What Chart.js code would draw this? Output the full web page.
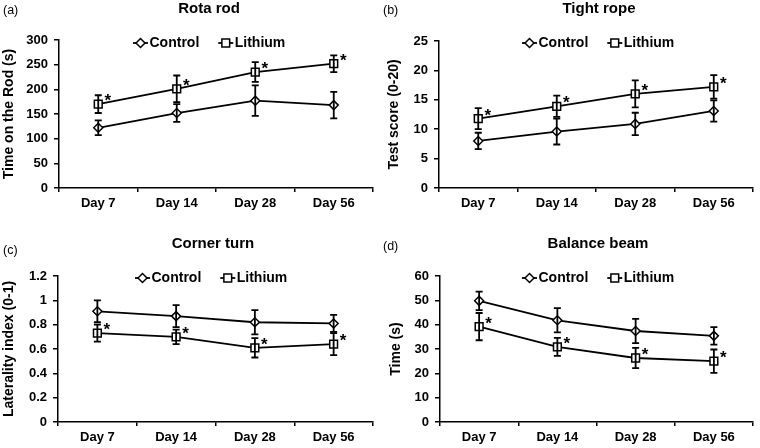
<!DOCTYPE html>
<html><head><meta charset="utf-8">
<script src="https://cdn.jsdelivr.net/npm/chart.js@4.4.1/dist/chart.umd.min.js"></script>
<style>
html,body{margin:0;padding:0;background:#fff;width:760px;height:448px;overflow:hidden}
.p{position:absolute;width:380px;height:224px}
canvas{display:block}
</style></head><body>
<div class="p" style="left:0;top:0"><canvas id="ca" width="380" height="224"></canvas></div>
<div class="p" style="left:380px;top:0"><canvas id="cb" width="380" height="224"></canvas></div>
<div class="p" style="left:0;top:224px"><canvas id="cc" width="380" height="224"></canvas></div>
<div class="p" style="left:380px;top:224px"><canvas id="cd" width="380" height="224"></canvas></div>
<script>
const days = ['Day 7', 'Day 14', 'Day 28', 'Day 56'];
const seriesNames = ['Control', 'Lithium'];

const rotaControl = [122, 152, 177, 168];
const rotaControlErr = [15, 18, 31, 27];
const rotaLithium = [170, 201, 235, 252];
const rotaLithiumErr = [18, 27, 20, 17];
const rotaTicks = [0, 50, 100, 150, 200, 250, 300];

const ropeControl = [8.0, 9.6, 10.9, 13.1];
const ropeControlErr = [1.4, 2.2, 1.9, 1.8];
const ropeLithium = [11.8, 13.9, 16.0, 17.2];
const ropeLithiumErr = [1.8, 1.8, 2.3, 2.0];
const ropeTicks = [0, 5, 10, 15, 20, 25];

const cornerControl = [0.91, 0.87, 0.82, 0.81];
const cornerControlErr = [0.09, 0.09, 0.10, 0.07];
const cornerLithium = [0.73, 0.70, 0.61, 0.64];
const cornerLithiumErr = [0.07, 0.06, 0.08, 0.09];
const cornerTicks = [0, 0.2, 0.4, 0.6, 0.8, 1, 1.2];

const beamControl = [49.8, 41.8, 37.4, 35.4];
const beamControlErr = [3.8, 5.0, 5.0, 3.6];
const beamLithium = [39.2, 30.9, 26.3, 25.0];
const beamLithiumErr = [5.6, 3.7, 4.2, 4.8];
const beamTicks = [0, 10, 20, 30, 40, 50, 60];

const lithiumSig = ['*', '*', '*', '*'];

Chart.defaults.font.family = "'Liberation Sans', Arial, sans-serif";
Chart.defaults.color = '#000';

const FONT = "'Liberation Sans', Arial, sans-serif";

function markerPath(ctx, style, x, y) {
  ctx.beginPath();
  if (style === 'rectRot') {
    const r = 4.5;
    ctx.moveTo(x - r, y); ctx.lineTo(x, y - r); ctx.lineTo(x + r, y); ctx.lineTo(x, y + r);
    ctx.closePath();
  } else {
    const s = 5.5 * Math.SQRT1_2;
    ctx.rect(x - s, y - s, 2 * s, 2 * s);
  }
  ctx.fillStyle = '#fff'; ctx.fill();
  ctx.strokeStyle = '#000'; ctx.lineWidth = 1.5; ctx.stroke();
}

function makeChart(p) {
  const overlay = {
    id: 'overlay',
    afterDatasetsDraw(chart) {
      const ctx = chart.ctx, ys = chart.scales.y;
      ctx.save();
      ctx.strokeStyle = '#000'; ctx.lineWidth = 1.8;
      [[0, p.ctrlErr], [1, p.lithErr]].forEach(([di, err]) => {
        const meta = chart.getDatasetMeta(di);
        const vals = chart.data.datasets[di].data;
        meta.data.forEach((pt, i) => {
          const top = ys.getPixelForValue(vals[i] + err[i]);
          const bot = ys.getPixelForValue(vals[i] - err[i]);
          ctx.beginPath();
          ctx.moveTo(pt.x, top); ctx.lineTo(pt.x, bot);
          ctx.moveTo(pt.x - 3.5, top); ctx.lineTo(pt.x + 3.5, top);
          ctx.moveTo(pt.x - 3.5, bot); ctx.lineTo(pt.x + 3.5, bot);
          ctx.stroke();
        });
      });
      const meta = chart.getDatasetMeta(1);
      ctx.fillStyle = '#000';
      ctx.font = 'bold 17px ' + FONT;
      ctx.textAlign = 'center';
      ctx.textBaseline = 'alphabetic';
      meta.data.forEach((pt, i) => {
        if (lithiumSig[i]) ctx.fillText(lithiumSig[i], pt.x + 9.5, pt.y + 2);
      });
      ctx.restore();
    },
    afterDraw(chart) {
      const ctx = chart.ctx;
      ctx.save();
      ctx.fillStyle = '#000';
      ctx.textBaseline = 'middle';
      ctx.font = 'bold 15px ' + FONT;
      ctx.textAlign = 'center';
      ctx.fillText(p.title, p.titleX, p.titleY);
      ctx.font = '12.5px ' + FONT;
      ctx.textAlign = 'left';
      ctx.fillText(p.tag, 3, p.tagY);
      ctx.font = 'bold 14px ' + FONT;
      let x = p.legendX;
      const ly = p.legendY;
      const styles = ['rectRot', 'rect'];
      seriesNames.forEach((name, i) => {
        ctx.strokeStyle = '#000'; ctx.lineWidth = 1.8;
        ctx.beginPath(); ctx.moveTo(x, ly); ctx.lineTo(x + 15, ly); ctx.stroke();
        markerPath(ctx, styles[i], x + 7.5, ly);
        ctx.fillStyle = '#000';
        ctx.fillText(name, x + 16.5, ly + 0.5);
        x += 16.5 + ctx.measureText(name).width + 19;
      });
      ctx.restore();
    }
  };

  const ds = (label, data, style, radius) => ({
    label, data,
    borderColor: '#000', borderWidth: 1.8, tension: 0, fill: false,
    pointStyle: style, pointRadius: radius, pointHoverRadius: radius,
    pointBackgroundColor: '#fff', pointBorderColor: '#000', pointBorderWidth: 1.5
  });

  return new Chart(document.getElementById(p.id), {
    type: 'line',
    data: {
      labels: days,
      datasets: [
        ds(seriesNames[0], p.ctrl, 'rectRot', 4.5),
        ds(seriesNames[1], p.lith, 'rect', 5.5)
      ]
    },
    options: {
      responsive: false,
      animation: false,
      events: [],
      layout: { padding: { left: p.padLeft, top: p.padTop, right: p.padRight, bottom: 0 } },
      plugins: { legend: { display: false }, title: { display: false }, tooltip: { enabled: false } },
      scales: {
        x: {
          type: 'category',
          offset: true,
          grid: { offset: true, drawOnChartArea: false, drawTicks: true, tickLength: 4, color: '#000', lineWidth: 1.5 },
          border: { display: true, color: '#000', width: 1.5 },
          ticks: { color: '#000', font: { size: 13, weight: 'bold' }, padding: 4, maxRotation: 0, autoSkip: false },
          afterFit(s) { s.height = p.xH; }
        },
        y: {
          min: p.ticks[0], max: p.ticks[p.ticks.length - 1],
          grid: { drawOnChartArea: false, drawTicks: true, tickLength: 5, color: '#000', lineWidth: 1.5 },
          border: { display: true, color: '#000', width: 1.5 },
          ticks: { color: '#000', font: { size: 13, weight: 'bold' }, padding: 6, callback: v => String(v) },
          afterBuildTicks(s) { s.ticks = p.ticks.map(v => ({ value: v })); },
          title: { display: true, text: p.yTitle, color: '#000', font: { size: 14, weight: 'bold' }, padding: { top: p.yTitlePad, bottom: 0 } },
          afterFit(s) { s.width = p.yW; }
        }
      }
    },
    plugins: [overlay]
  });
}

makeChart({ id: 'ca', tag: '(a)', title: 'Rota rod', yTitle: 'Time on the Rod (s)',
  ctrl: rotaControl, ctrlErr: rotaControlErr, lith: rotaLithium, lithErr: rotaLithiumErr, ticks: rotaTicks,
  padLeft: 0, padTop: 40, padRight: 5, xH: 36, yW: 59, yTitlePad: 1,
  titleX: 209, titleY: 9, tagY: 11, legendX: 133, legendY: 43 });
makeChart({ id: 'cb', tag: '(b)', title: 'Tight rope', yTitle: 'Test score (0-20)',
  ctrl: ropeControl, ctrlErr: ropeControlErr, lith: ropeLithium, lithErr: ropeLithiumErr, ticks: ropeTicks,
  padLeft: 0, padTop: 41, padRight: 4, xH: 36, yW: 59, yTitlePad: 6,
  titleX: 219, titleY: 9, tagY: 11, legendX: 142, legendY: 43 });
makeChart({ id: 'cc', tag: '(c)', title: 'Corner turn', yTitle: 'Laterality index (0-1)',
  ctrl: cornerControl, ctrlErr: cornerControlErr, lith: cornerLithium, lithErr: cornerLithiumErr, ticks: cornerTicks,
  padLeft: 0, padTop: 52, padRight: 5, xH: 26, yW: 58, yTitlePad: 1,
  titleX: 213, titleY: 20, tagY: 27, legendX: 135, legendY: 54 });
makeChart({ id: 'cd', tag: '(d)', title: 'Balance beam', yTitle: 'Time (s)',
  ctrl: beamControl, ctrlErr: beamControlErr, lith: beamLithium, lithErr: beamLithiumErr, ticks: beamTicks,
  padLeft: 0, padTop: 52, padRight: 3, xH: 26, yW: 60, yTitlePad: 8,
  titleX: 218, titleY: 20, tagY: 23, legendX: 142, legendY: 54 });
</script>
</body></html>
